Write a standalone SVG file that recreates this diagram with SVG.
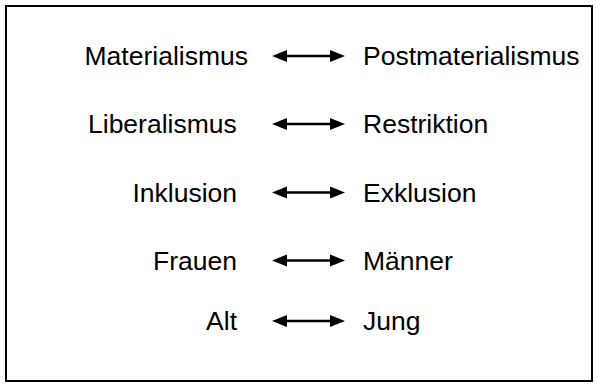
<svg xmlns="http://www.w3.org/2000/svg" width="598" height="387" viewBox="0 0 598 387">
  <style>
    .lbl { font-family: "Liberation Sans", Arial, sans-serif; font-size: 26.5px; fill: #000; }
    .l { text-anchor: end; }
    .conn line { stroke: #000; stroke-width: 2.5; }
    .conn polygon { fill: #000; }
  </style>
  <rect x="0" y="0" width="598" height="387" fill="#fff"/>
  <rect id="frame" x="6" y="6" width="586" height="375" fill="none" stroke="#000" stroke-width="2"/>

  <g id="row-materialismus">
    <text class="lbl l" x="248" y="65">Materialismus</text>
    <text class="lbl" x="363" y="65">Postmaterialismus</text>
  </g>
  <g id="row-liberalismus">
    <text class="lbl" x="88" y="133">Liberalismus</text>
    <text class="lbl" x="363" y="133">Restriktion</text>
  </g>
  <g id="row-inklusion">
    <text class="lbl l" x="237" y="201.5">Inklusion</text>
    <text class="lbl" x="363" y="201.5">Exklusion</text>
  </g>
  <g id="row-frauen">
    <text class="lbl l" x="237" y="269.5">Frauen</text>
    <text class="lbl" x="363" y="269.5">Männer</text>
  </g>
  <g id="row-alt">
    <text class="lbl l" x="237" y="330">Alt</text>
    <text class="lbl" x="363" y="330">Jung</text>
  </g>

  <g id="connectors" class="conn">
    <g transform="translate(0,56)">
      <line x1="285" y1="0" x2="332" y2="0"/>
      <polygon points="272,0 287,-6 287,6"/>
      <polygon points="345,0 330,-6 330,6"/>
    </g>
    <g transform="translate(0,124)">
      <line x1="285" y1="0" x2="332" y2="0"/>
      <polygon points="272,0 287,-6 287,6"/>
      <polygon points="345,0 330,-6 330,6"/>
    </g>
    <g transform="translate(0,192.5)">
      <line x1="285" y1="0" x2="332" y2="0"/>
      <polygon points="272,0 287,-6 287,6"/>
      <polygon points="345,0 330,-6 330,6"/>
    </g>
    <g transform="translate(0,260.5)">
      <line x1="285" y1="0" x2="332" y2="0"/>
      <polygon points="272,0 287,-6 287,6"/>
      <polygon points="345,0 330,-6 330,6"/>
    </g>
    <g transform="translate(0,321)">
      <line x1="285" y1="0" x2="332" y2="0"/>
      <polygon points="272,0 287,-6 287,6"/>
      <polygon points="345,0 330,-6 330,6"/>
    </g>
  </g>
</svg>
